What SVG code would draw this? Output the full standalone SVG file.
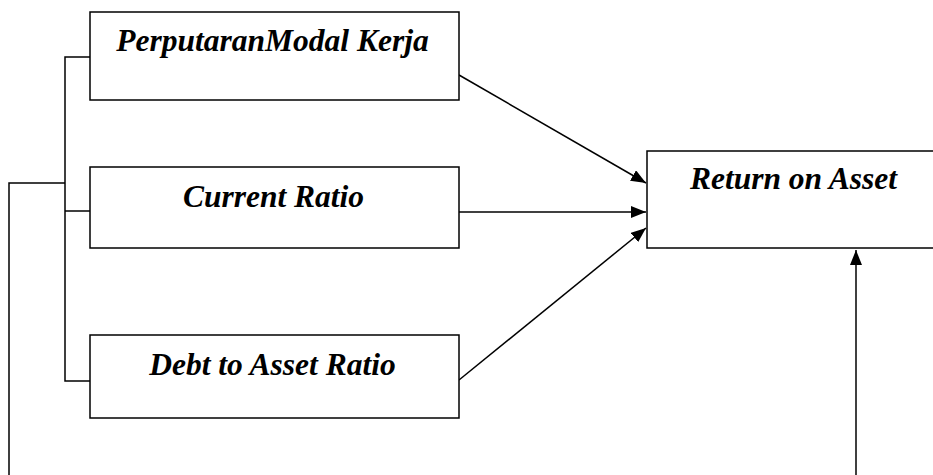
<svg xmlns="http://www.w3.org/2000/svg" width="933" height="475" viewBox="0 0 933 475">
  <style>
    .box { fill: #ffffff; stroke: #000000; stroke-width: 1.5; }
    .wire { fill: none; stroke: #000000; stroke-width: 1.5; }
    .label { font-family: 'Liberation Serif',serif; font-size: 31.5px; font-weight: bold; font-style: italic; fill: #000000; text-anchor: middle; }
  </style>
  <defs>
    <marker id="head" markerUnits="userSpaceOnUse" markerWidth="16" markerHeight="12" refX="15" refY="6" orient="auto">
      <path d="M0,0 L15,6 L0,12 Z" fill="#000000"/>
    </marker>
  </defs>
  <rect width="933" height="475" fill="#ffffff"/>

  <g id="connectors">
    <!-- bracket joining the three variable boxes -->
    <path class="wire" d="M90,57 H65 V381 H90"/>
    <path class="wire" d="M65,211 H90"/>
    <!-- outer line running down and round to the bottom of Return on Asset -->
    <path class="wire" d="M65,183 H9 V475"/>
    <path class="wire" d="M856,475 V250" marker-end="url(#head)"/>
    <!-- arrows into Return on Asset -->
    <path class="wire" d="M459,75 L646,183" marker-end="url(#head)"/>
    <path class="wire" d="M459,212 L646,212" marker-end="url(#head)"/>
    <path class="wire" d="M459,380 L646,228" marker-end="url(#head)"/>
  </g>

  <g id="node-modal-kerja">
    <rect class="box" x="90" y="12" width="369" height="88"/>
    <text class="label" x="272.5" y="51">PerputaranModal Kerja</text>
  </g>
  <g id="node-current-ratio">
    <rect class="box" x="90" y="167" width="369" height="81"/>
    <text class="label" x="273.5" y="207">Current Ratio</text>
  </g>
  <g id="node-debt-to-asset">
    <rect class="box" x="90" y="335" width="369" height="83"/>
    <text class="label" x="272.5" y="375">Debt to Asset Ratio</text>
  </g>
  <g id="node-return-on-asset">
    <rect class="box" x="647" y="151" width="320" height="97"/>
    <text class="label" x="793.5" y="189">Return on Asset</text>
  </g>
</svg>
